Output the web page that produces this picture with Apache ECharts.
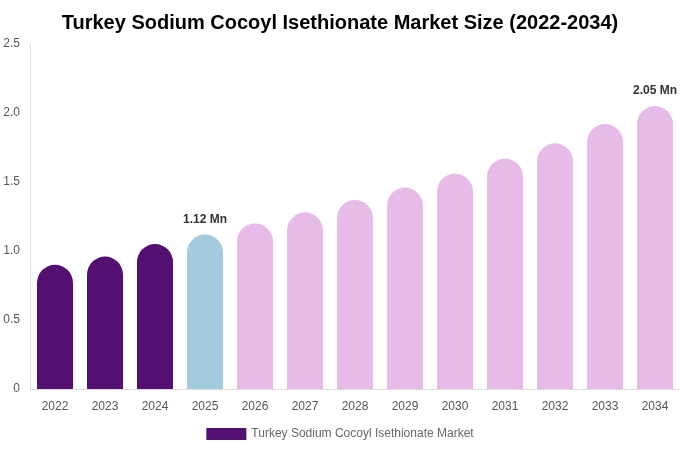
<!DOCTYPE html>
<html>
<head>
<meta charset="utf-8">
<script src="https://cdn.jsdelivr.net/npm/echarts@6/dist/echarts.min.js"></script>
<style>
  html, body { margin: 0; padding: 0; background: #fff; }
  #chart { width: 680px; height: 450px; }
</style>
</head>
<body>
<div id="chart"></div>
<script>
// 数据
const years = ['2022', '2023', '2024', '2025', '2026', '2027', '2028', '2029', '2030', '2031', '2032', '2033', '2034'];
const marketSize = [0.90, 0.96, 1.05, 1.12, 1.20, 1.28, 1.37, 1.46, 1.56, 1.67, 1.78, 1.92, 2.05];
const yTicks = [0, 0.5, 1.0, 1.5, 2.0, 2.5];
const labelYears = ['2025', '2034'];

const colorHistory = '#541071';
const colorBase = '#A3CADD';
const colorForecast = '#E6BBE8';

function barColor(i) {
  if (i < 3) return colorHistory;
  if (i === 3) return colorBase;
  return colorForecast;
}

const myChart = echarts.init(document.getElementById('chart'));

const option = {
  animation: false,
  title: {
    text: 'Turkey Sodium Cocoyl Isethionate Market Size (2022-2034)',
    left: 'center',
    top: 8,
    textStyle: { fontFamily: 'Liberation Sans, Arial, sans-serif', fontSize: 20, fontWeight: 'bold', color: '#000' }
  },
  legend: {
    bottom: 5,
    left: 'center',
    icon: 'rect',
    itemWidth: 40,
    itemHeight: 12,
    textStyle: { fontFamily: 'Liberation Sans, Arial, sans-serif', fontSize: 12, color: '#666' },
    data: [{ name: 'Turkey Sodium Cocoyl Isethionate Market', itemStyle: { color: colorHistory } }]
  },
  grid: { left: 30, right: 0, top: 44, bottom: 61 },
  xAxis: {
    type: 'category',
    data: years,
    axisLine: { lineStyle: { color: '#ddd' } },
    axisTick: { show: false },
    axisLabel: { color: '#555', fontSize: 12, margin: 12, fontFamily: 'Liberation Sans, Arial, sans-serif' }
  },
  yAxis: {
    type: 'value',
    min: 0,
    max: 2.5,
    interval: 0.5,
    axisLine: { show: true, lineStyle: { color: '#ddd' } },
    axisTick: { show: false },
    splitLine: { show: false },
    axisLabel: {
      color: '#555', fontSize: 12, margin: 10, fontFamily: 'Liberation Sans, Arial, sans-serif',
      formatter: function (v) { return yTicks.indexOf(v) >= 0 ? (v === 0 ? '0' : v.toFixed(1)) : ''; }
    }
  },
  series: [{
    name: 'Turkey Sodium Cocoyl Isethionate Market',
    type: 'bar',
    barWidth: '72%',
    data: marketSize.map(function (v, i) {
      const item = { value: v, itemStyle: { color: barColor(i), borderRadius: [18, 18, 0, 0] } };
      if (labelYears.indexOf(years[i]) >= 0) {
        item.label = {
          show: true,
          position: 'top',
          distance: 9,
          formatter: v.toFixed(2) + ' Mn',
          fontWeight: 'bold',
          fontSize: 12,
          color: '#333',
          fontFamily: 'Liberation Sans, Arial, sans-serif'
        };
      }
      return item;
    })
  }]
};

myChart.setOption(option);
window.addEventListener('resize', function () { myChart.resize(); });
</script>
</body>
</html>
